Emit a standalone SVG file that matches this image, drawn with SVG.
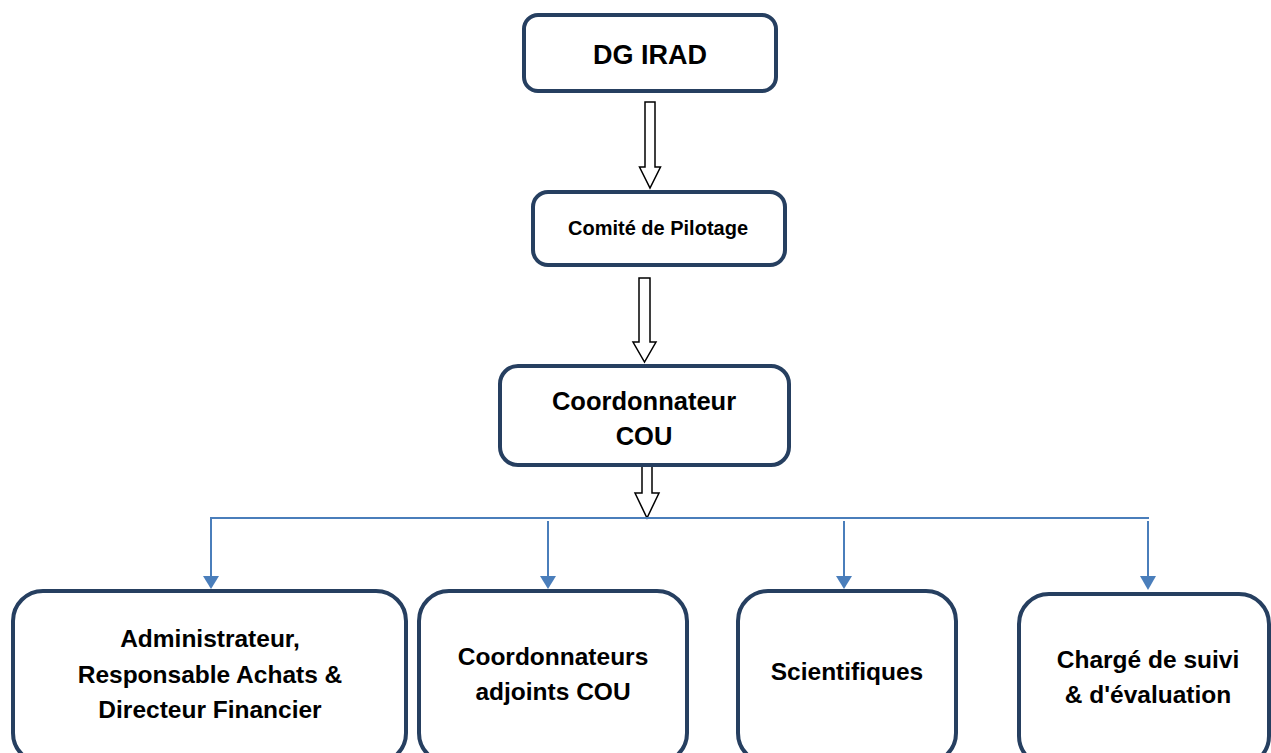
<svg xmlns="http://www.w3.org/2000/svg" width="1271" height="753" viewBox="0 0 1271 753">
<style>
.box{fill:#fff;stroke:#263F60;stroke-width:4}
.t{font-family:"Liberation Sans",Arial,sans-serif;font-weight:bold;fill:#000;text-anchor:middle}
.hollow{fill:#fff;stroke:#000;stroke-width:1.5;stroke-linejoin:miter}
.blue{fill:none;stroke:#4A7EBB;stroke-width:2}
.bhead{fill:#4A7EBB}
</style>
<rect width="1271" height="753" fill="#fff"/>
<g id="connectors">
<polygon class="hollow" points="645,102 655,102 655,167 660.5,167 650,188 639.5,167 645,167"/>
<polygon class="hollow" points="639,278 650,278 650,342 656,342 644.5,362 633,342 639,342"/>
<polygon class="hollow" points="642,466 652,466 652,493 659,493 647,518 635,493 642,493"/>
<path class="blue" d="M211,577 V518 H1149"/>
<path class="blue" d="M548,521 V577"/>
<path class="blue" d="M844,521 V577"/>
<path class="blue" d="M1148,521 V577"/>
<polygon class="bhead" points="203,576 219,576 211,589"/>
<polygon class="bhead" points="540,576 556,576 548,589"/>
<polygon class="bhead" points="836,576 852,576 844,589"/>
<polygon class="bhead" points="1140,576 1156,576 1148,590"/>
</g>
<g id="dg-irad">
<rect class="box" x="524" y="15" width="252" height="76" rx="14"/>
<text class="t" x="650" y="64" font-size="27">DG IRAD</text>
</g>
<g id="comite">
<rect class="box" x="533" y="192" width="252" height="73" rx="15"/>
<text class="t" x="658" y="235" font-size="20">Comité de Pilotage</text>
</g>
<g id="coordonnateur">
<rect class="box" x="500" y="366" width="289" height="99" rx="18"/>
<text class="t" x="644" y="410" font-size="25.5">Coordonnateur</text>
<text class="t" x="644" y="445" font-size="25.5">COU</text>
</g>
<g id="administrateur">
<rect class="box" x="13" y="591" width="393" height="172" rx="30"/>
<text class="t" x="210" y="647" font-size="24.5">Administrateur,</text>
<text class="t" x="210" y="683" font-size="24.5">Responsable Achats &amp;</text>
<text class="t" x="210" y="718" font-size="24.5">Directeur Financier</text>
</g>
<g id="adjoints">
<rect class="box" x="419" y="591" width="268" height="172" rx="30"/>
<text class="t" x="553" y="665" font-size="24.5">Coordonnateurs</text>
<text class="t" x="553" y="700" font-size="24.5">adjoints COU</text>
</g>
<g id="scientifiques">
<rect class="box" x="738" y="591" width="218" height="172" rx="30"/>
<text class="t" x="847" y="680" font-size="24.5">Scientifiques</text>
</g>
<g id="charge">
<rect class="box" x="1019" y="594" width="250" height="172" rx="30"/>
<text class="t" x="1148" y="668" font-size="24.5">Chargé de suivi</text>
<text class="t" x="1148" y="703" font-size="24.5">&amp; d'évaluation</text>
</g>
</svg>
